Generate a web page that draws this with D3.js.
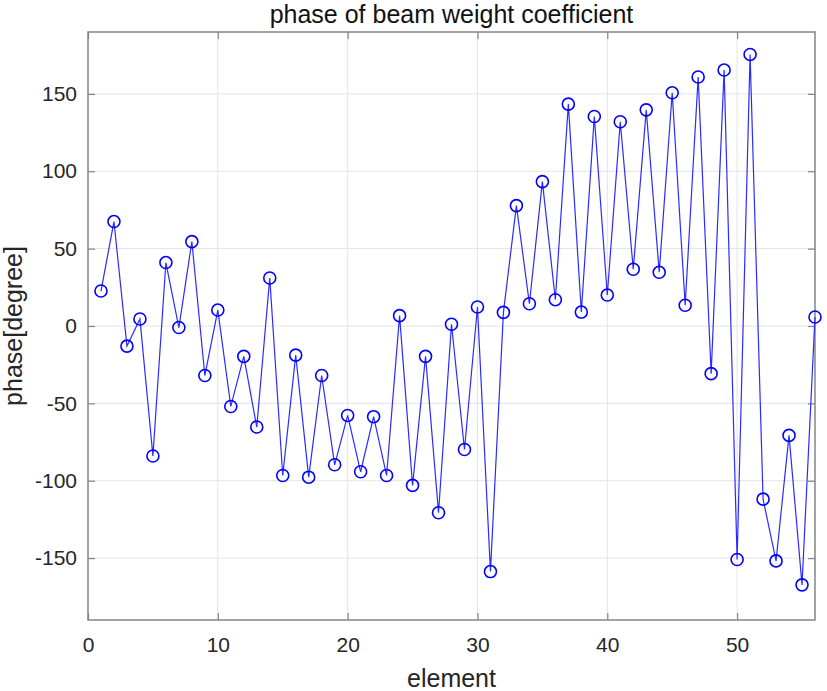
<!DOCTYPE html>
<html><head><meta charset="utf-8">
<script src="https://cdn.jsdelivr.net/npm/d3@7"></script>
<style>body{margin:0;background:#fff}svg{display:block}text{font-family:"Liberation Sans",Arial,sans-serif}</style>
</head><body>
<script>
const elements = d3.range(1, 57);
const phase = [22.6, 67.5, -13, 4.5, -84, 41, -1, 54.5, -32, 10.3,
  -52, -19.6, -65.3, 31, -96.6, -18.8, -97.7, -32, -89.7, -57.8,
  -94.2, -58.6, -96.6, 6.7, -103, -19.6, -120.7, 1.1, -79.8, 12.3,
  -158.7, 8.8, 77.8, 14.4, 93.3, 17, 143.4, 9, 135.4, 20,
  132, 36.7, 139.7, 34.7, 150.7, 13.4, 160.9, -30.8, 165.4, -150.9,
  175.5, -111.9, -151.8, -70.7, -167.3, 5.8];
const xTicks = [0, 10, 20, 30, 40, 50];
const yTicks = [-150, -100, -50, 0, 50, 100, 150];
const title = "phase of beam weight coefficient";
const xLabel = "element";
const yLabel = "phase[degree]";

const W = 827, H = 691;
const L = 88, R = 815, T = 32, B = 620;
const svg = d3.select("body").append("svg").attr("width", W).attr("height", H);
const x = d3.scaleLinear().domain([0, 56]).range([L, R]);
const y = d3.scaleLinear().domain([-190, 190]).range([B, T]);
const fmt = d => String(d);

// grid
const g = svg.append("g");
g.selectAll(".gx").data(xTicks.filter(d => d > 0)).join("line")
  .attr("x1", d => x(d)).attr("x2", d => x(d)).attr("y1", T).attr("y2", B)
  .attr("stroke", "#e3e3e3").attr("stroke-width", 1);
g.selectAll(".gy").data(yTicks).join("line")
  .attr("y1", d => y(d)).attr("y2", d => y(d)).attr("x1", L).attr("x2", R)
  .attr("stroke", "#e3e3e3").attr("stroke-width", 1);

// axes
const axisColor = "#858585";
function styleAxis(sel, hideText) {
  sel.select(".domain").remove();
  sel.selectAll(".tick line").attr("stroke", axisColor).attr("stroke-width", 1.2);
  sel.selectAll(".tick text").attr("fill", "#262626").style("font-size", "21px")
    .style("font-family", '"Liberation Sans", Arial, sans-serif');
  if (hideText) sel.selectAll(".tick text").remove();
}
svg.append("g").attr("transform", `translate(0,${B})`)
  .call(d3.axisBottom(x).tickValues(xTicks).tickFormat(fmt).tickSizeInner(-7).tickSizeOuter(0).tickPadding(17))
  .call(s => styleAxis(s, false));
svg.append("g").attr("transform", `translate(0,${T})`)
  .call(d3.axisTop(x).tickValues(xTicks).tickSizeInner(-7).tickSizeOuter(0))
  .call(s => styleAxis(s, true));
svg.append("g").attr("transform", `translate(${L},0)`)
  .call(d3.axisLeft(y).tickValues(yTicks).tickFormat(fmt).tickSizeInner(-7).tickSizeOuter(0).tickPadding(11))
  .call(s => styleAxis(s, false));
svg.append("g").attr("transform", `translate(${R},0)`)
  .call(d3.axisRight(y).tickValues(yTicks).tickSizeInner(-7).tickSizeOuter(0))
  .call(s => styleAxis(s, true));
svg.append("rect").attr("x", L).attr("y", T).attr("width", R - L).attr("height", B - T)
  .attr("fill", "none").attr("stroke", axisColor).attr("stroke-width", 1.5);

// data
const pts = elements.map((e, i) => [e, phase[i]]);
svg.append("path").datum(pts)
  .attr("d", d3.line().x(d => x(d[0])).y(d => y(d[1])))
  .attr("fill", "none").attr("stroke", "#2b2bff").attr("stroke-width", 1.2);
svg.selectAll(".m").data(pts).join("circle")
  .attr("cx", d => x(d[0])).attr("cy", d => y(d[1])).attr("r", 6)
  .attr("fill", "none").attr("stroke", "#0000ff").attr("stroke-width", 1.6);

// labels
svg.append("text").attr("x", (L + R) / 2).attr("y", 23).attr("text-anchor", "middle")
  .style("font-size", "25px").attr("fill", "#111").text(title);
svg.append("text").attr("x", (L + R) / 2).attr("y", 687).attr("text-anchor", "middle")
  .style("font-size", "25px").attr("fill", "#262626").text(xLabel);
svg.append("text").attr("transform", `translate(22,${(T + B) / 2}) rotate(-90)`)
  .attr("text-anchor", "middle").style("font-size", "25px").attr("fill", "#262626").text(yLabel);
</script>
</body></html>
